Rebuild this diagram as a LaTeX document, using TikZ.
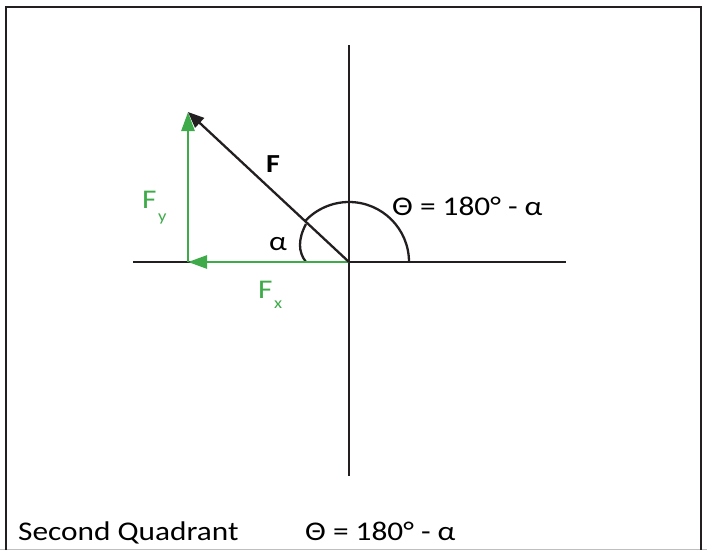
\documentclass[tikz,border=0pt]{standalone}
\usepackage{fontspec}
\setmainfont{Carlito}
\newfontfamily\widefont[FakeStretch=1.16]{Carlito}
\usetikzlibrary{arrows.meta}
\definecolor{ink}{HTML}{231F20}
\definecolor{grn}{HTML}{3EAA4A}
\tikzset{
  frame/.style={draw=ink, line width=2pt},
  axis/.style={draw=ink, line width=2.3pt},
  vec/.style={draw=ink, line width=2.3pt, -{Triangle[length=16pt,width=13pt]}},
  gvec/.style={draw=grn, line width=2.6pt, -{Triangle[length=19pt,width=13pt]}},
  angarc/.style={draw=ink, line width=2.3pt},
  lbl/.style={inner sep=0pt, anchor=base west, font=\widefont\fontsize{27}{30}\selectfont},
  sub/.style={inner sep=0pt, anchor=base west, font=\widefont\fontsize{16}{18}\selectfont},
}
\begin{document}
\begin{tikzpicture}[x=1pt,y=-1pt]
\useasboundingbox (0,0) rectangle (707,550);
% frame
\draw[draw=black!25, line width=1pt] (0,549.5) -- (707,549.5);
\draw[frame] (6,550) -- (6,7) -- (701,7) -- (701,550);
% points
\coordinate (O) at (349,262);
\coordinate (T) at (188,112);
\coordinate (B) at (188,262);
\coordinate (vt) at (349,45);
\coordinate (vb) at (349,476);
\coordinate (hl) at (133,262);
\coordinate (hr) at (566,262);
% axes
\draw[axis] (vt) -- (vb);
\draw[axis] (hl) -- (hr);
% angles
\draw[angarc] (409,262) arc[start angle=0, end angle=-137, radius=60];
\draw[angarc] (306,262) .. controls (298,252) and (298,239) .. (306,224);
% components
\draw[gvec] (O) -- (B);
\draw[gvec] (B) -- (T);
% force
\draw[vec] (O) -- (T);
% labels
\node[lbl, font=\widefont\fontsize{26}{30}\selectfont\bfseries] (lF) at (266,172) {F};
\node[lbl, text=grn] (lFy) at (142,208) {F};
\node[sub, text=grn] (lFys) at (158,221) {y};
\node[lbl, text=grn] (lFx) at (258,298) {F};
\node[sub, text=grn] (lFxs) at (274,308) {x};
\node[lbl] (la) at (269,250) {α};
\node[lbl] (lth) at (392,215) {Θ = 180° - α};
\node[lbl] (lq) at (18,540) {Second Quadrant};
\node[lbl] (lq2) at (305,540) {Θ = 180° - α};
\end{tikzpicture}
\end{document}
